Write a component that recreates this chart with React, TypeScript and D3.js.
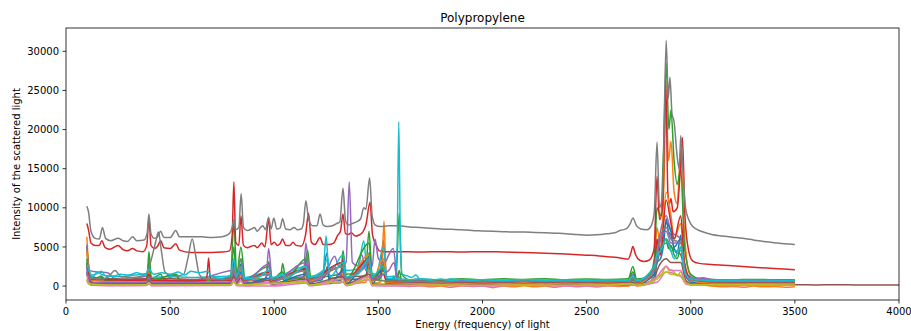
import React from "react";
import * as d3 from "d3";

type P = [number, number];

const chartTitle = "Polypropylene";
const xLabel = "Energy (frequency) of light";
const yLabel = "Intensity of the scattered light";
const xTicks = [0, 500, 1000, 1500, 2000, 2500, 3000, 3500, 4000];
const yTicks = [0, 5000, 10000, 15000, 20000, 25000, 30000];

const blueA: P[] = [[100,2500],[106,1500],[120,700],[150,800],[175,1100],[190,600],[250,500],[320,600],[385,500],[398,1400],[410,500],[455,800],[470,450],[530,700],[545,450],[620,400],[700,350],[780,450],[806,2000],[818,600],[840,2800],[855,500],[940,450],[973,1500],[988,450],[1040,900],[1055,450],[1140,500],[1152,2000],[1168,550],[1230,800],[1252,4200],[1268,700],[1318,700],[1330,2500],[1345,800],[1400,900],[1440,1200],[1456,4300],[1470,900],[1505,800],[1524,5900],[1540,700],[1580,600],[1600,500],[1650,400],[1700,350],[1800,300],[1900,350],[2000,300],[2100,350],[2200,300],[2300,340],[2400,300],[2500,320],[2600,300],[2700,350],[2722,700],[2740,380],[2800,450],[2825,1200],[2838,3000],[2855,3500],[2870,5500],[2882,8600],[2893,7000],[2905,6500],[2920,4800],[2935,4200],[2952,6500],[2965,3500],[2980,1300],[3000,700],[3050,450],[3100,380],[3200,350],[3300,330],[3400,320],[3500,300]];

const orangeA: P[] = [[100,6300],[104,4500],[112,1500],[125,500],[200,350],[300,300],[385,300],[398,1200],[410,300],[600,250],[790,300],[806,1500],[818,300],[840,1200],[855,250],[973,900],[988,250],[1152,1200],[1168,300],[1318,400],[1330,1500],[1345,350],[1440,500],[1456,2500],[1470,400],[1510,500],[1518,2500],[1527,8300],[1536,2000],[1548,350],[1600,100],[1650,-50],[1700,50],[1750,-100],[1800,0],[1850,-150],[1900,50],[1950,-50],[2000,0],[2050,-200],[2100,0],[2150,-100],[2200,50],[2250,-100],[2300,0],[2350,-150],[2400,30],[2450,-80],[2500,0],[2550,-120],[2600,40],[2650,-50],[2700,0],[2722,350],[2740,20],[2800,300],[2825,2500],[2838,7500],[2855,5000],[2870,12000],[2882,23800],[2893,16000],[2905,18500],[2920,12000],[2935,10500],[2952,17500],[2965,9000],[2980,3500],[3000,1200],[3050,200],[3100,0],[3150,-100],[3200,-50],[3250,-150],[3300,0],[3350,-100],[3400,-50],[3450,-150],[3500,-80]];

const greenA: P[] = [[100,5000],[105,3500],[115,1500],[130,800],[170,1300],[190,700],[300,600],[390,900],[398,4400],[410,900],[455,1500],[470,800],[530,1400],[545,700],[700,700],[790,1200],[806,8000],[820,1500],[840,5000],[860,900],[960,900],[973,3100],[990,900],[1030,1000],[1040,2900],[1055,900],[1140,1000],[1160,4600],[1175,1100],[1320,1500],[1330,4500],[1345,1500],[1440,2500],[1455,7000],[1470,1500],[1510,1000],[1525,3000],[1540,900],[1585,1200],[1600,9300],[1612,1500],[1650,800],[1700,900],[1800,800],[1900,950],[2000,800],[2100,920],[2200,850],[2300,950],[2400,820],[2500,900],[2600,850],[2700,950],[2722,2500],[2740,900],[2800,1200],[2825,3500],[2838,10000],[2855,9000],[2870,18000],[2882,28500],[2895,20000],[2905,22500],[2920,16000],[2935,13000],[2952,15000],[2970,5000],[3000,1500],[3050,900],[3100,850],[3200,800],[3300,850],[3400,800],[3500,800]];

const redTop: P[] = [[100,8000],[108,7200],[120,5500],[140,5200],[160,5200],[172,5800],[188,4900],[210,4700],[250,5200],[272,4700],[295,4500],[320,4800],[340,4500],[370,4400],[388,5200],[398,8700],[408,5200],[425,4800],[440,5100],[455,5800],[470,4900],[500,4800],[527,5400],[545,4600],[600,4300],[650,4300],[700,4300],[750,4350],[785,4500],[798,6500],[806,13300],[815,5600],[830,5200],[840,9000],[852,5200],[870,4900],[890,5100],[905,5200],[918,4900],[940,5500],[955,5000],[973,8500],[985,5300],[1000,5600],[1015,5200],[1028,5400],[1040,6000],[1055,5200],[1075,5200],[1090,5600],[1105,5200],[1130,5100],[1150,6500],[1165,9300],[1178,5600],[1195,5300],[1220,6200],[1235,5300],[1260,5300],[1285,5500],[1305,6500],[1318,7000],[1330,9200],[1342,6700],[1355,6600],[1370,6800],[1390,6400],[1405,6500],[1425,6900],[1440,7800],[1460,10700],[1472,6500],[1490,5200],[1505,4500],[1530,4400],[1600,4400],[1700,4350],[1800,4400],[1900,4350],[2000,4400],[2100,4350],[2200,4300],[2300,4200],[2400,4100],[2500,3950],[2560,3850],[2620,3700],[2660,3600],[2700,3450],[2712,4200],[2722,5050],[2735,4000],[2755,3300],[2775,3150],[2800,3300],[2815,3900],[2825,5000],[2838,14000],[2850,8500],[2865,10000],[2880,26200],[2890,12000],[2898,10500],[2905,11200],[2915,9500],[2935,10000],[2948,14000],[2960,19000],[2972,9000],[2990,4500],[3010,3200],[3040,2900],[3100,2750],[3200,2600],[3300,2400],[3400,2250],[3500,2100]];

const purpleA: P[] = [[100,5300],[110,2000],[150,1800],[200,1700],[230,1000],[300,800],[398,1300],[410,800],[600,700],[806,2000],[820,800],[840,1600],[860,700],[960,800],[973,4800],[990,900],[1140,1200],[1152,5500],[1170,1200],[1250,2000],[1290,3800],[1310,2500],[1345,3000],[1360,13300],[1375,3000],[1400,2600],[1420,4000],[1440,2000],[1455,3500],[1470,2500],[1484,6000],[1500,3500],[1530,3000],[1550,4000],[1571,4800],[1590,1500],[1620,800],[1700,700],[1800,800],[1900,680],[2000,780],[2100,700],[2200,800],[2300,690],[2400,780],[2500,700],[2600,790],[2700,700],[2722,1500],[2740,700],[2825,2200],[2838,4500],[2882,9000],[2905,7000],[2952,6000],[2980,1500],[3030,950],[3060,1050],[3100,850],[3200,800],[3350,760],[3500,700]];

const brownA: P[] = [[100,3000],[110,1500],[150,1000],[250,900],[385,950],[398,1800],[410,900],[500,950],[600,850],[700,900],[790,1000],[806,3000],[820,1000],[840,2500],[860,900],[973,1800],[990,900],[1152,2200],[1170,1000],[1240,1100],[1255,2500],[1270,1000],[1318,1200],[1330,3500],[1345,1200],[1440,1300],[1455,3000],[1470,1100],[1524,2000],[1540,900],[1600,700],[1700,520],[1800,600],[1900,480],[2000,560],[2100,470],[2200,580],[2300,490],[2400,560],[2500,480],[2600,570],[2700,500],[2722,800],[2740,500],[2825,1500],[2838,3000],[2882,6000],[2905,5000],[2952,4000],[2980,1000],[3050,550],[3300,500],[3500,500]];

const pinkA: P[] = [[100,800],[120,100],[200,50],[385,60],[400,300],[410,50],[790,80],[806,500],[820,50],[1000,0],[1152,400],[1170,50],[1330,500],[1345,50],[1455,800],[1470,50],[1600,0],[1800,80],[2000,20],[2200,90],[2500,0],[2700,60],[2838,500],[2882,1800],[2952,1200],[2980,200],[3200,80],[3500,100]];

const grayTop: P[] = [[100,10200],[108,9500],[120,7000],[140,6100],[160,6000],[175,7500],[190,6100],[215,5800],[250,6100],[275,5800],[295,5700],[320,6300],[340,5800],[375,5900],[390,6800],[398,9200],[408,6700],[425,6100],[440,6300],[455,7000],[470,6200],[500,6200],[527,7100],[545,6300],[600,6300],[650,6300],[700,6200],[750,6300],[780,6600],[798,7500],[806,8500],[815,7200],[830,7500],[841,11800],[852,7500],[870,7100],[890,7300],[905,7500],[918,7000],[935,7500],[945,7700],[958,7200],[973,8800],[985,7300],[998,8700],[1012,7300],[1028,7400],[1040,8600],[1055,7300],[1075,7200],[1095,7500],[1110,7200],[1130,7300],[1140,8000],[1152,10900],[1165,8500],[1185,7700],[1205,7700],[1220,9200],[1235,7800],[1255,7600],[1280,7700],[1300,8000],[1315,8200],[1330,12500],[1342,8400],[1355,7800],[1375,8000],[1395,8200],[1415,8600],[1430,10000],[1440,9800],[1458,13800],[1470,9000],[1485,7800],[1510,7600],[1550,7700],[1600,7700],[1650,7550],[1700,7500],[1750,7400],[1800,7300],[1850,7250],[1900,7200],[1950,7100],[2000,7050],[2050,7000],[2100,6950],[2150,6900],[2200,6900],[2250,6850],[2300,6800],[2350,6750],[2400,6700],[2450,6600],[2500,6500],[2550,6550],[2600,6700],[2640,6850],[2660,7100],[2690,7300],[2710,8000],[2722,8700],[2740,7700],[2760,7300],[2790,7200],[2810,7700],[2825,9500],[2838,18400],[2850,10000],[2865,12000],[2882,31400],[2892,24000],[2900,26700],[2910,22000],[2920,21000],[2935,16500],[2945,15000],[2952,19200],[2962,15000],[2975,10000],[2990,8500],[3010,7600],[3050,7000],[3100,6600],[3150,6400],[3200,6250],[3250,6100],[3300,5900],[3350,5700],[3400,5550],[3450,5400],[3500,5300]];

const oliveA: P[] = [[100,900],[110,300],[200,200],[385,220],[398,600],[410,200],[790,250],[806,800],[820,200],[840,600],[860,200],[1152,700],[1170,200],[1330,900],[1345,200],[1455,1200],[1470,200],[1524,700],[1540,150],[1600,150],[1800,220],[2000,140],[2200,210],[2400,150],[2600,200],[2700,160],[2722,300],[2740,150],[2820,500],[2838,1200],[2860,1500],[2882,2560],[2895,2000],[2905,2100],[2920,1800],[2935,1300],[2952,1800],[2970,700],[3000,300],[3100,200],[3500,150]];

const cyanA: P[] = [[100,3000],[110,1500],[130,1200],[150,1800],[170,1500],[200,1300],[260,1200],[330,1400],[398,1600],[410,1100],[500,1200],[600,1100],[700,1200],[790,1300],[806,2400],[820,1200],[840,2000],[860,1100],[973,1800],[990,1100],[1152,2500],[1170,1200],[1235,2000],[1249,6400],[1262,2000],[1290,2500],[1330,4000],[1345,2000],[1400,2200],[1430,5800],[1445,2000],[1490,1500],[1524,5000],[1540,1200],[1580,1300],[1590,5000],[1598,21000],[1606,5000],[1615,1500],[1640,1300],[1660,1100],[1680,1400],[1700,900],[1750,850],[1800,700],[1850,900],[1900,720],[2000,820],[2100,700],[2200,800],[2300,720],[2400,790],[2500,700],[2600,780],[2700,700],[2722,1200],[2740,700],[2825,1800],[2838,3500],[2882,5500],[2905,4500],[2952,4500],[2980,1200],[3050,800],[3300,700],[3500,700]];

const blueB: P[] = [[100,1800],[110,800],[130,300],[200,250],[385,260],[398,900],[410,250],[790,300],[806,1500],[818,300],[840,1800],[855,250],[973,1000],[988,250],[1152,1500],[1168,300],[1255,1800],[1268,300],[1330,2000],[1345,300],[1456,3500],[1470,300],[1524,2500],[1540,250],[1600,250],[1700,200],[1800,300],[1900,200],[2000,280],[2100,200],[2200,300],[2300,220],[2400,280],[2500,200],[2600,260],[2700,220],[2722,500],[2740,220],[2825,1500],[2838,4000],[2855,4500],[2882,8000],[2905,7000],[2920,5000],[2952,6000],[2970,2000],[3000,500],[3100,250],[3300,200],[3500,220]];

const orangeB: P[] = [[100,4500],[108,2000],[120,800],[200,600],[385,620],[398,2000],[410,600],[790,650],[806,3000],[818,700],[840,2200],[855,600],[973,1500],[988,600],[1152,2000],[1168,600],[1330,2500],[1345,600],[1456,4000],[1470,600],[1524,3500],[1540,500],[1600,400],[1700,300],[1800,380],[1900,280],[2000,360],[2100,300],[2200,380],[2300,280],[2400,350],[2500,300],[2600,380],[2700,300],[2722,900],[2740,300],[2825,2000],[2838,5000],[2855,4000],[2882,12000],[2905,9000],[2920,6000],[2952,8000],[2970,2500],[3000,700],[3100,350],[3300,300],[3500,320]];

const greenB: P[] = [[100,3500],[108,1800],[120,900],[200,800],[385,820],[398,3000],[410,800],[530,1500],[545,800],[790,850],[806,5000],[818,900],[840,3500],[855,800],[973,2500],[988,800],[1040,1800],[1055,800],[1152,3500],[1168,800],[1330,3000],[1345,900],[1456,5500],[1470,900],[1524,2500],[1540,800],[1590,800],[1600,2000],[1612,700],[1700,650],[1800,750],[1900,600],[2000,700],[2100,620],[2200,720],[2300,650],[2400,750],[2500,640],[2600,720],[2700,680],[2722,1800],[2740,650],[2825,2500],[2838,5500],[2855,4500],[2882,6000],[2893,4800],[2905,5200],[2920,4000],[2935,3500],[2952,5000],[2970,2000],[3000,900],[3100,700],[3300,650],[3500,680]];

const redB: P[] = [[100,2800],[108,1500],[120,900],[200,800],[300,750],[385,760],[398,1500],[410,700],[600,650],[670,700],[678,1500],[685,3600],[692,1200],[700,700],[790,750],[806,3000],[818,800],[840,2500],[855,700],[973,1800],[988,700],[1152,2200],[1168,800],[1330,3000],[1345,800],[1456,3500],[1470,800],[1524,1500],[1540,600],[1600,550],[1700,500],[1800,580],[1900,480],[2000,560],[2100,500],[2200,580],[2300,480],[2400,540],[2500,500],[2600,560],[2700,500],[2722,1000],[2740,500],[2825,2500],[2838,6000],[2855,4000],[2882,11000],[2905,8000],[2920,6000],[2952,9000],[2970,3000],[3000,900],[3100,550],[3300,500],[3500,520]];

const purpleB: P[] = [[100,2000],[110,900],[130,500],[300,450],[385,460],[398,1200],[410,450],[790,480],[806,1800],[818,500],[840,1500],[855,450],[973,2800],[988,500],[1152,3000],[1168,500],[1250,1500],[1290,2500],[1310,1200],[1330,1800],[1345,1000],[1420,2000],[1456,3000],[1470,1000],[1550,2000],[1575,3000],[1590,900],[1620,600],[1700,650],[1800,550],[1900,700],[2000,600],[2100,720],[2200,620],[2300,700],[2400,600],[2500,680],[2600,620],[2700,700],[2722,1300],[2740,650],[2825,2000],[2838,4000],[2882,7000],[2905,5500],[2952,5500],[2975,1500],[3000,900],[3050,1000],[3100,750],[3300,680],[3500,650]];

const brownB: P[] = [[100,1600],[110,700],[130,300],[200,250],[385,260],[398,700],[410,250],[790,280],[806,1200],[818,300],[840,1000],[855,250],[973,700],[988,250],[1152,900],[1168,250],[1330,1200],[1345,250],[1456,1500],[1470,250],[1600,200],[1700,160],[1800,230],[1900,150],[2000,220],[2100,160],[2200,230],[2300,150],[2400,210],[2500,160],[2600,220],[2700,170],[2722,400],[2740,170],[2825,900],[2838,2000],[2882,3500],[2905,3000],[2952,3000],[2975,800],[3000,300],[3100,200],[3300,180],[3500,160],[3600,150],[3700,160],[3800,150],[3900,140],[4000,130]];

const pinkB: P[] = [[100,1500],[110,400],[130,100],[300,80],[385,90],[398,500],[410,80],[790,100],[806,900],[818,100],[840,700],[855,80],[973,500],[988,80],[1152,700],[1168,100],[1330,900],[1345,100],[1456,1200],[1470,100],[1600,80],[1800,120],[2000,60],[2200,120],[2400,60],[2600,110],[2722,300],[2740,80],[2838,1200],[2882,2500],[2905,2000],[2952,2000],[2975,500],[3000,150],[3300,100],[3500,100]];

const grayB: P[] = [[100,1500],[120,1000],[160,900],[200,1100],[235,2000],[265,1200],[320,1100],[387,1600],[400,2500],[420,4500],[432,5800],[444,6900],[458,4500],[475,1800],[500,1400],[530,1300],[565,1500],[585,3500],[606,6000],[622,4000],[640,1500],[670,900],[750,800],[790,900],[806,2500],[818,900],[840,3500],[855,800],[973,1500],[988,800],[1152,2000],[1168,800],[1330,2500],[1345,800],[1456,3000],[1470,800],[1600,600],[1700,550],[1800,620],[1900,540],[2000,600],[2100,550],[2200,620],[2300,540],[2400,600],[2500,550],[2600,600],[2700,560],[2722,1000],[2740,560],[2825,2000],[2838,4500],[2882,7500],[2905,6000],[2952,5500],[2975,1500],[3000,800],[3100,600],[3300,560],[3500,550]];

const oliveB: P[] = [[100,700],[110,250],[200,150],[385,160],[398,400],[410,150],[790,170],[806,600],[818,150],[1152,500],[1168,150],[1330,600],[1345,150],[1456,900],[1470,150],[1600,100],[1800,180],[2000,100],[2200,170],[2400,100],[2600,160],[2722,250],[2740,120],[2838,900],[2882,1800],[2905,1500],[2952,1400],[2975,400],[3000,200],[3500,150]];

const cyanB: P[] = [[100,2800],[110,2000],[125,1400],[150,1600],[170,1900],[190,1300],[230,1300],[260,1500],[300,1400],[340,1700],[380,1400],[398,2200],[420,1500],[460,1700],[500,1500],[540,1800],[570,1400],[600,1900],[640,1700],[680,1900],[700,1200],[750,1000],[790,1400],[806,3500],[818,1200],[840,2500],[855,1000],[920,1100],[973,2000],[988,1000],[1040,1500],[1055,1000],[1152,2500],[1168,1100],[1230,1500],[1255,3500],[1268,1200],[1330,3000],[1345,1200],[1400,1500],[1456,3500],[1470,1200],[1524,2500],[1540,1000],[1600,900],[1650,800],[1700,950],[1750,750],[1800,900],[1850,700],[1900,850],[1950,700],[2000,800],[2100,700],[2200,820],[2300,700],[2400,780],[2500,680],[2600,760],[2700,700],[2722,1300],[2740,700],[2825,2500],[2838,4000],[2855,4500],[2882,6000],[2905,4500],[2920,3500],[2952,5000],[2970,1800],[3000,900],[3100,700],[3300,650],[3500,700]];

const seriesList: P[][] = [blueA, orangeA, greenA, redTop, purpleA, brownA, pinkA, grayTop, oliveA, cyanA, blueB, orangeB, greenB, redB, purpleB, brownB, pinkB, grayB, oliveB, cyanB];
const palette = ["#1f77b4", "#ff7f0e", "#2ca02c", "#d62728", "#9467bd", "#8c564b", "#e377c2", "#7f7f7f", "#bcbd22", "#17becf"];

const W = 911, H = 331;
const M = { left: 66, right: 899, top: 28, bottom: 300 };

export default function App() {
  const all = seriesList.flat();
  const yMin = d3.min(all, (d) => d[1]) as number;
  const yMax = d3.max(all, (d) => d[1]) as number;
  const pad = (yMax - yMin) * 0.05;
  const x = d3.scaleLinear().domain([0, 4000]).range([M.left, M.right]);
  const y = d3.scaleLinear().domain([yMin - pad, yMax + pad]).range([M.bottom, M.top]);
  const line = d3.line<P>().x((d) => x(d[0])).y((d) => y(d[1])).curve(d3.curveMonotoneX);
  const font = "'DejaVu Sans', sans-serif";
  return (
    <svg width={W} height={H} style={{ position: "fixed", left: 0, top: 0, background: "#fff" }} fontFamily={font}>
      <defs>
        <clipPath id="plot">
          <rect x={M.left} y={M.top} width={M.right - M.left} height={M.bottom - M.top} />
        </clipPath>
      </defs>
      <g clipPath="url(#plot)">
        {seriesList.map((s, i) => (
          <path key={i} d={line(s) || ""} fill="none" stroke={palette[i % palette.length]} strokeWidth={1.5} strokeLinejoin="round" />
        ))}
      </g>
      <rect x={M.left} y={M.top} width={M.right - M.left} height={M.bottom - M.top} fill="none" stroke="#000" strokeWidth={0.8} />
      {xTicks.map((t) => (
        <g key={"x" + t}>
          <line x1={x(t)} x2={x(t)} y1={M.bottom} y2={M.bottom + 3.5} stroke="#000" strokeWidth={0.8} />
          <text x={x(t)} y={M.bottom + 14.5} fontSize={10} textAnchor="middle" fill="#000">{t}</text>
        </g>
      ))}
      {yTicks.map((t) => (
        <g key={"y" + t}>
          <line x1={M.left - 3.5} x2={M.left} y1={y(t)} y2={y(t)} stroke="#000" strokeWidth={0.8} />
          <text x={M.left - 7} y={y(t) + 3.6} fontSize={10} textAnchor="end" fill="#000">{t}</text>
        </g>
      ))}
      <text x={(M.left + M.right) / 2} y={22} fontSize={12} textAnchor="middle" fill="#000">{chartTitle}</text>
      <text x={(M.left + M.right) / 2} y={328} fontSize={10} textAnchor="middle" fill="#000">{xLabel}</text>
      <text transform={`translate(20,${(M.top + M.bottom) / 2}) rotate(-90)`} fontSize={10} textAnchor="middle" fill="#000">{yLabel}</text>
    </svg>
  );
}
